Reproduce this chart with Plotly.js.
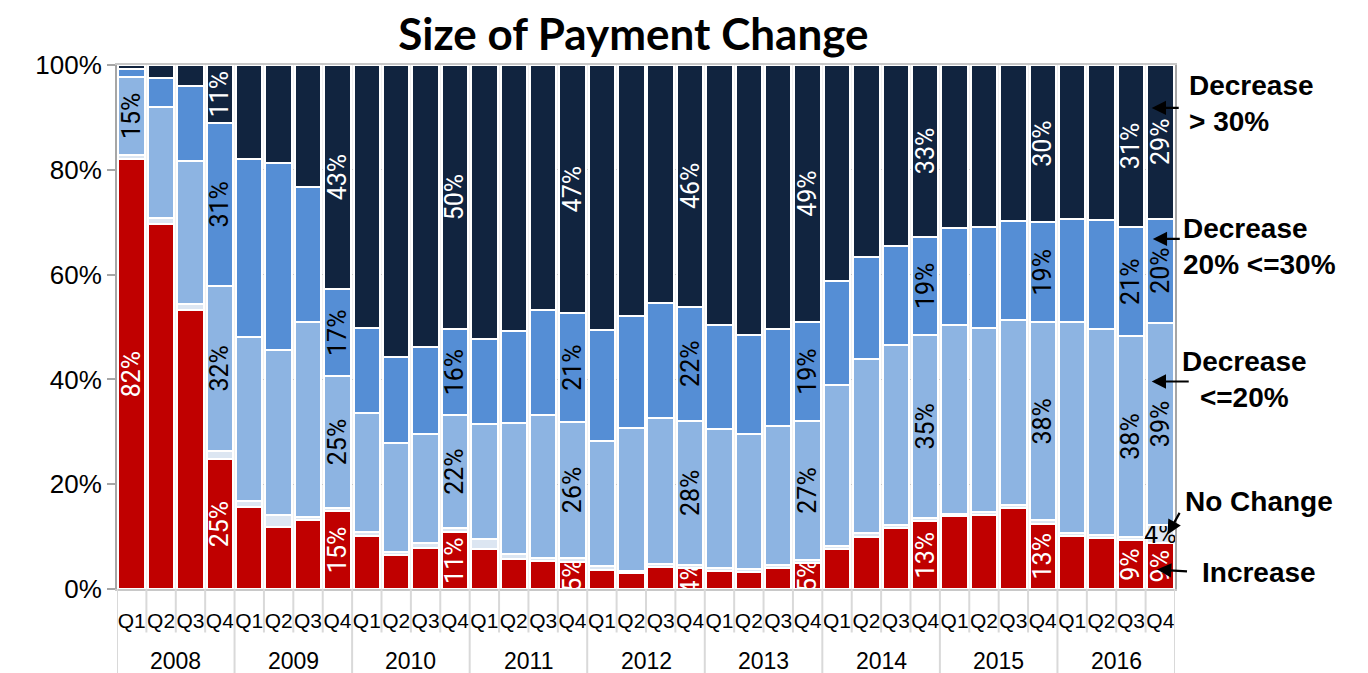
<!DOCTYPE html>
<html>
<head>
<meta charset="utf-8">
<script src="https://cdn.plot.ly/plotly-3.0.1.min.js"></script>
<style>html,body{margin:0;padding:0;background:#fff;}#chart{width:1368px;height:673px;}</style>
</head>
<body>
<div id="chart"></div>
<script>
// ---- data (percent of loans) ----
const years = ["2008","2009","2010","2011","2012","2013","2014","2015","2016"];
const quarters = ["Q1","Q2","Q3","Q4"];
const yTickValues = [0,20,40,60,80,100];
const yTickLabels = ["0%","20%","40%","60%","80%","100%"];

const increase   = [82,69.7,53.2,24.8, 15.6,11.9,13.1,14.9, 10.2,6.4,7.9,10.8, 7.7,5.7,5.4,5.1, 3.7,3.0,4.2,4.1, 3.5,3.3,4.0,5.0, 7.6,10.0,11.6,12.9, 13.9,14.1,15.5,12.5, 10.2,9.8,9.3,8.7];
const noChange   = [0.8,1.1,1.2,1.5, 1.1,2.2,0.6,0.6, 0.6,0.7,0.8,0.8, 1.8,0.9,0.6,0.8, 0.6,0.5,0.5,0.5, 0.5,0.5,0.5,0.5, 0.6,0.7,0.6,0.7, 0.5,0.6,0.6,0.6, 0.5,0.6,0.7,3.5];
const decLe20    = [15,21.2,27.2,31.6, 31.3,31.5,37.2,25.1, 22.8,20.8,20.8,21.6, 21.9,25,27.2,26, 23.9,27.3,27.9,27.5, 26.5,25.8,26.6,26.6, 30.8,33.1,34.4,34.9, 35.9,35.2,35.3,37.8, 40.2,39.2,38.2,38.6];
const dec20to30  = [1.4,5.5,14.4,31, 34.1,35.7,25.9,16.6, 16.3,16.3,16.7,16.4, 16.3,17.7,20,20.7, 21.2,21.3,21.9,21.8, 19.9,18.9,18.5,18.8, 19.7,19.6,18.9,18.7, 18.5,19.2,18.8,19.1, 19.8,20.8,20.9,19.9];
const decOver30  = [0.8,2.5,4.0,11.1, 17.9,18.7,23.2,42.8, 50.1,55.8,53.8,50.4, 52.3,50.7,46.8,47.4, 50.6,47.9,45.5,46.1, 49.6,51.5,50.4,49.1, 41.3,36.6,34.5,32.8, 31.2,30.9,29.8,30.0, 29.3,29.6,30.9,29.3];

// bars that carry a value label
const labeledMain = [3,7,11,15,19,23,27,31,34,35];
const labeledIncrease = [0].concat(labeledMain);
const labeledLe20 = [0].concat(labeledMain);
const labeledNoChange = [35];

// ---- build ----
const xCats = [], xTickText = [];
years.forEach(y => quarters.forEach(q => { xCats.push(y + ' ' + q); xTickText.push(q); }));

function labels(vals, idx){ return vals.map((v,i)=> idx.includes(i) ? Math.round(v)+'%' : ''); }

const labelFont = "Roboto, 'Open Sans', sans-serif";
function series(name, vals, color, idx, txtColor, angle){
  return {
    type:'bar', name:name, x:xCats, y:vals,
    marker:{color:color, line:{color:'#ffffff', width:2}},
    text:labels(vals, idx), textposition:'inside', insidetextanchor:'middle',
    textangle:angle, constraintext:'none',
    textfont:{family:labelFont, size:25, color:txtColor},
    hoverinfo:'skip'
  };
}

const data = [
  series('Increase', increase, '#c00000', labeledIncrease, '#ffffff', -90),
  series('No Change', noChange, '#dce6f2', labeledNoChange, '#000000', 0),
  series('Decrease <=20%', decLe20, '#8db4e2', labeledLe20, '#000000', -90),
  series('Decrease 20% <=30%', dec20to30, '#558ed5', labeledMain, '#000000', -90),
  series('Decrease > 30%', decOver30, '#11243f', labeledMain, '#ffffff', -90)
];

const axisFont = {family:'Liberation Sans, Arial, sans-serif', size:21, color:'#000'};
const yearFont = {family:'Liberation Sans, Arial, sans-serif', size:23, color:'#000'};
const annFont = {family:'Liberation Sans, Arial, sans-serif', size:28, color:'#000', weight:'bold'};
function arrow(xp, yp, ax, ay){
  return {xref:'paper', yref:'paper', x:xp, y:yp, ax:ax, ay:ay, text:' ', showarrow:true,
          arrowhead:2, arrowsize:1.3, arrowwidth:2.2, arrowcolor:'#000'};
}
function label(txt, xp, yp, anchor){
  return {xref:'paper', yref:'paper', x:xp, y:yp, xanchor:anchor, yanchor:'middle', text:txt,
          showarrow:false, align:anchor==='center'?'center':'left', font:annFont};
}

// quarter tick marks and year dividers below the axis, at category boundaries
const shapes = [];
for (let i = 0; i <= xCats.length; i++) {
  const isYear = (i % quarters.length === 0);
  shapes.push({type:'line', xref:'x', yref:'paper', x0:i-0.5, x1:i-0.5, y0:0, y1: isYear ? -0.17 : -0.083,
               line:{color:'#d9d9d9', width:2}, layer:'above'});
}
// year labels centred under their quarters
const yearAnns = years.map((y, k) => ({xref:'x', yref:'paper', x:k*quarters.length + (quarters.length-1)/2,
  y:-0.138, yanchor:'middle', xanchor:'center', text:y, showarrow:false, font:yearFont}));

const layout = {
  width:1368, height:673,
  margin:{l:117, r:193, t:65, b:84},
  paper_bgcolor:'#ffffff', plot_bgcolor:'#f0f0f0',
  barmode:'stack', bargap:0.1, showlegend:false,
  title:{text:'<b>Size of Payment Change</b>', x:0.463, xanchor:'center', y:0.948, yanchor:'middle',
         font:{family:'Lato, Carlito, sans-serif', size:44, color:'#000'}},
  xaxis:{type:'category', tickmode:'array', tickvals:xCats, ticktext:xTickText, ticks:'', tickangle:0,
         ticklabelstandoff:12, tickfont:axisFont,
         showline:true, linecolor:'#c8c8c8', linewidth:2, mirror:true, showgrid:false, range:[-0.5, xCats.length-0.5]},
  yaxis:{range:[0,100], tickmode:'array', tickvals:yTickValues, ticktext:yTickLabels, ticks:'outside', ticklen:8,
         tickcolor:'#a6a6a6', tickwidth:2,
         tickfont:{family:'Liberation Sans, Arial, sans-serif', size:26, color:'#000'},
         showline:true, linecolor:'#a6a6a6', linewidth:2, mirror:true,
         showgrid:true, gridcolor:'#c8c8c8', griddash:'dot', gridwidth:1, zeroline:false},
  shapes: shapes,
  annotations: yearAnns.concat([
    label('Decrease<br>> 30%', 1.0113, 0.926, 'left'),
    label('Decrease<br>20% <=30%', 1.0057, 0.654, 'left'),
    label('Decrease<br><=20%', 1.066, 0.399, 'center'),
    label('No Change', 1.0076, 0.167, 'left'),
    label('Increase', 1.0236, 0.031, 'left'),
    arrow(0.978, 0.918, 30, 0),
    arrow(0.979, 0.668, 30, 0),
    arrow(0.978, 0.396, 40, 0),
    arrow(0.993, 0.104, 15, -27),
    arrow(0.983, 0.037, 33, 2)
  ])
};

Plotly.newPlot('chart', data, layout, {displayModeBar:false, staticPlot:true});
</script>
</body>
</html>
